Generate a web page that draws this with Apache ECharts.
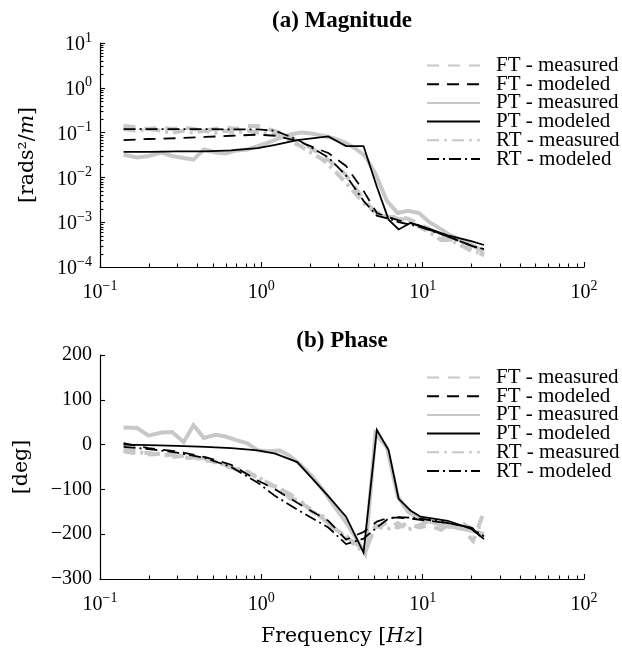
<!DOCTYPE html>
<html><head><meta charset="utf-8">
<script src="https://cdn.jsdelivr.net/npm/echarts@6/dist/echarts.min.js"></script>
<style>html,body{margin:0;padding:0;background:#fff}#c{width:622px;height:649px}</style>
</head><body><div id="c"></div>
<script>
// ---- data ----
const measFreq = [0.14,0.17,0.2,0.24,0.28,0.33,0.38,0.44,0.52,0.6,0.7,0.82,0.95,1.1,1.3,1.5,1.75,2.05,2.4,2.8,3.3,3.8,4.4,5.1,6.0,7.0,8.1,9.5,11,13,15,17.5,20.5,24];
const modelFreq = [0.14,0.2,0.3,0.45,0.65,0.95,1.22,1.67,2.6,3.35,4.3,5.2,6.15,7.1,8.4,9.7,14.3,20,24];

const ftMagMeas = [0.14,0.13,0.12,0.13,0.12,0.13,0.12,0.11,0.12,0.13,0.12,0.14,0.14,0.12,0.1,0.08,0.06,0.045,0.03,0.02,0.012,0.006,0.003,0.0016,0.0013,0.0013,0.0012,0.0009,0.0007,0.0005,0.0004,0.0003,0.00025,0.00018];
const ptMagMeas = [0.032,0.028,0.03,0.036,0.03,0.027,0.025,0.042,0.036,0.034,0.04,0.042,0.05,0.06,0.075,0.09,0.1,0.095,0.085,0.075,0.06,0.045,0.03,0.012,0.003,0.0016,0.0018,0.0016,0.001,0.0007,0.0005,0.0004,0.0003,0.00022];
const rtMagMeas = [0.12,0.11,0.12,0.11,0.1,0.11,0.1,0.11,0.1,0.11,0.1,0.11,0.1,0.1,0.085,0.065,0.05,0.035,0.025,0.015,0.008,0.0045,0.0025,0.0017,0.0014,0.0012,0.0011,0.0008,0.0006,0.0004,0.0004,0.0003,0.00022,0.0002];
const ftMagMod = [0.068,0.072,0.075,0.08,0.085,0.09,0.085,0.065,0.035,0.018,0.005,0.0016,0.0013,0.0011,0.00095,0.00082,0.00048,0.0003,0.00024];
const ptMagMod = [0.037,0.037,0.038,0.038,0.04,0.045,0.053,0.068,0.082,0.05,0.05,0.0062,0.00114,0.00069,0.00096,0.00083,0.00051,0.00038,0.00031];
const rtMagMod = [0.12,0.12,0.12,0.12,0.118,0.118,0.11,0.07,0.028,0.011,0.003,0.0014,0.0012,0.001,0.00088,0.00078,0.00048,0.0003,0.00025];

const ftPhMeas = [-15,-20,-18,-25,-22,-30,-28,-35,-38,-48,-55,-60,-75,-85,-100,-110,-130,-145,-165,-185,-205,-220,-235,-185,-175,-185,-175,-185,-180,-190,-175,-185,-215,-150];
const ptPhMeas = [38,37,20,27,28,6,43,15,22,18,10,3,-13,-15,-13,-25,-45,-70,-100,-135,-170,-205,-243,25,-5,-115,-150,-165,-172,-178,-183,-188,-193,-200];
const rtPhMeas = [-10,-15,-22,-20,-28,-25,-32,-30,-40,-45,-52,-65,-70,-90,-95,-120,-125,-150,-160,-190,-200,-225,-240,-180,-190,-175,-190,-180,-170,-180,-185,-175,-190,-180];
const ftPhMod = [3,-8,-15,-28,-45,-80,-100,-130,-170,-212,-195,-172,-163,-163,-165,-168,-175,-185,-212];
const ptPhMod = [0,-1,-3,-5,-8,-13,-20,-39,-115,-161,-241,33,-13,-121,-147,-161,-170,-188,-211];
const rtPhMod = [-5,-10,-18,-30,-50,-85,-115,-145,-185,-222,-210,-185,-165,-162,-163,-165,-175,-185,-205];

const seriesNames = ['FT - measured','FT - modeled','PT - measured','PT - modeled','RT - measured','RT - modeled'];
const xMinorTicks = [0.2,0.3,0.4,0.5,0.6,0.7,0.8,0.9,2,3,4,5,6,7,8,9,20,30,40,50,60,70,80,90];
const yMinorTicks = [0.0002,0.0003,0.0004,0.0005,0.0006,0.0007,0.0008,0.0009,0.002,0.003,0.004,0.005,0.006,0.007,0.008,0.009,0.02,0.03,0.04,0.05,0.06,0.07,0.08,0.09,0.2,0.3,0.4,0.5,0.6,0.7,0.8,0.9,2,3,4,5,6,7,8,9];

// ---- styles ----
const FONT = 'Liberation Serif';
const NAMEFONT = 'DejaVu Serif';
const GRAY = '#c8c8c8';
const styles = [
  {color:GRAY, width:4, type:[12,9], z:2},
  {color:'#000', width:1.8, type:[12,8], z:3},
  {color:GRAY, width:4, type:'solid', z:2},
  {color:'#000', width:1.8, type:'solid', z:3},
  {color:GRAY, width:4, type:[12,5,3,5], z:2},
  {color:'#000', width:1.8, type:[12,4,2,4], z:3}
];
const zip = (xs, ys) => xs.map((x,i)=>[x,ys[i]]);
function logLabel(v){
  const e = Math.round(Math.log10(v));
  return '{b|10}{s|' + String(e).replace('-','−') + '}';
}
const labelRich = {
  b:{fontFamily:FONT, fontSize:20, color:'#000', lineHeight:24, verticalAlign:'bottom'},
  s:{fontFamily:FONT, fontSize:14, color:'#000', lineHeight:14, verticalAlign:'top'}
};
function lineSeries(name, idx, data, gi){
  const s = styles[idx];
  return {name, type:'line', xAxisIndex:gi, yAxisIndex:gi, data, symbol:'none',
    showSymbol:false, z:s.z, animation:false, silent:true,
    lineStyle:{color:s.color, width:s.width, type:s.type, cap:'butt', join:'miter'},
    itemStyle:{color:s.color}};
}
const nameRich = {n:{fontFamily:NAMEFONT, fontSize:20.5, color:'#000'}, i:{fontFamily:NAMEFONT, fontStyle:'italic', fontSize:20.5, color:'#000'}};
function xAxisCfg(gi){
  return {type:'log', logBase:10, gridIndex:gi, min:0.1, max:100,
    axisLine:{onZero:false, lineStyle:{color:'#000', width:1.2}},
    axisTick:{inside:true, length:5, lineStyle:{color:'#000', width:1.1}},
    splitLine:{show:false},
    axisLabel:{margin:12, formatter:logLabel, rich:labelRich},
    name: gi===1 ? '{n|Frequency [}{i|Hz}{n|]}' : '', nameLocation:'middle', nameGap:47,
    nameTextStyle:{rich:nameRich}
  };
}
const legendCommon = {orient:'vertical', left:421, itemWidth:53, itemHeight:10, itemGap:-2.3,
  data:seriesNames, selectedMode:false,
  itemStyle:{opacity:0, borderWidth:0},
  textStyle:{fontFamily:FONT, fontSize:21, color:'#000', padding:[0,0,0,11]}};

const series = [];
const magMeas = [ftMagMeas, null, ptMagMeas, null, rtMagMeas, null];
const magMod = [null, ftMagMod, null, ptMagMod, null, rtMagMod];
const phMeas = [ftPhMeas, null, ptPhMeas, null, rtPhMeas, null];
const phMod = [null, ftPhMod, null, ptPhMod, null, rtPhMod];
seriesNames.forEach((n,i)=>{
  series.push(lineSeries(n, i, magMeas[i] ? zip(measFreq, magMeas[i]) : zip(modelFreq, magMod[i]), 0));
});
seriesNames.forEach((n,i)=>{
  series.push(lineSeries(n, i, phMeas[i] ? zip(measFreq, phMeas[i]) : zip(modelFreq, phMod[i]), 1));
});

const chart = echarts.init(document.getElementById('c'), null, {renderer:'canvas'});
chart.setOption({
  animation:false,
  backgroundColor:'#fff',
  title:[
    {text:'(a) Magnitude', left:337, top:5, textAlign:'center', textStyle:{fontFamily:FONT, fontWeight:'bold', fontSize:23, color:'#000'}},
    {text:'(b) Phase', left:337, top:325, textAlign:'center', textStyle:{fontFamily:FONT, fontWeight:'bold', fontSize:23, color:'#000'}}
  ],
  legend:[
    Object.assign({}, legendCommon, {top:50}),
    Object.assign({}, legendCommon, {top:362})
  ],
  grid:[
    {left:100, top:43, width:484, height:224},
    {left:100, top:355, width:484, height:224}
  ],
  xAxis:[xAxisCfg(0), xAxisCfg(1)],
  yAxis:[
    {type:'log', logBase:10, gridIndex:0, min:0.0001, max:10,
     axisLine:{show:true, lineStyle:{color:'#000', width:1.2}},
     axisTick:{show:true, inside:true, length:5, lineStyle:{color:'#000', width:1.1}},
     splitLine:{show:false},
     axisLabel:{margin:8, formatter:logLabel, rich:labelRich},
     name:'{n|[rads²/}{i|m}{n|]}', nameLocation:'middle', nameRotate:90, nameGap:62,
     nameTextStyle:{rich:nameRich}},
    {type:'value', gridIndex:1, min:-300, max:200, interval:100,
     axisLine:{show:true, onZero:false, lineStyle:{color:'#000', width:1.2}},
     axisTick:{show:true, inside:true, length:5, lineStyle:{color:'#000', width:1.1}},
     splitLine:{show:false},
     axisLabel:{margin:8, fontFamily:FONT, fontSize:20, color:'#000', formatter:v=>String(v).replace('-','−')},
     name:'[deg]', nameLocation:'middle', nameRotate:90, nameGap:68,
     nameTextStyle:{fontFamily:NAMEFONT, fontSize:20.5, color:'#000'}}
  ],
  series
});

// minor ticks (matplotlib style), placed through the chart's own axis scales
const ticks = [];
[0,1].forEach(gi => {
  const yMinVal = gi===0 ? 0.0001 : -300;
  const yb = chart.convertToPixel({yAxisIndex:gi}, yMinVal);
  xMinorTicks.forEach(v => {
    const px = Math.round(chart.convertToPixel({xAxisIndex:gi}, v)) + 0.5;
    ticks.push({type:'line', silent:true, z:10, shape:{x1:px, y1:yb, x2:px, y2:yb-3.5}, style:{stroke:'#000', lineWidth:1.1}});
  });
});
const xl = chart.convertToPixel({xAxisIndex:0}, 0.1);
yMinorTicks.forEach(v => {
  const py = Math.round(chart.convertToPixel({yAxisIndex:0}, v)) + 0.5;
  ticks.push({type:'line', silent:true, z:10, shape:{x1:xl, y1:py, x2:xl+3.5, y2:py}, style:{stroke:'#000', lineWidth:1.1}});
});
chart.setOption({graphic:ticks});
</script></body></html>
